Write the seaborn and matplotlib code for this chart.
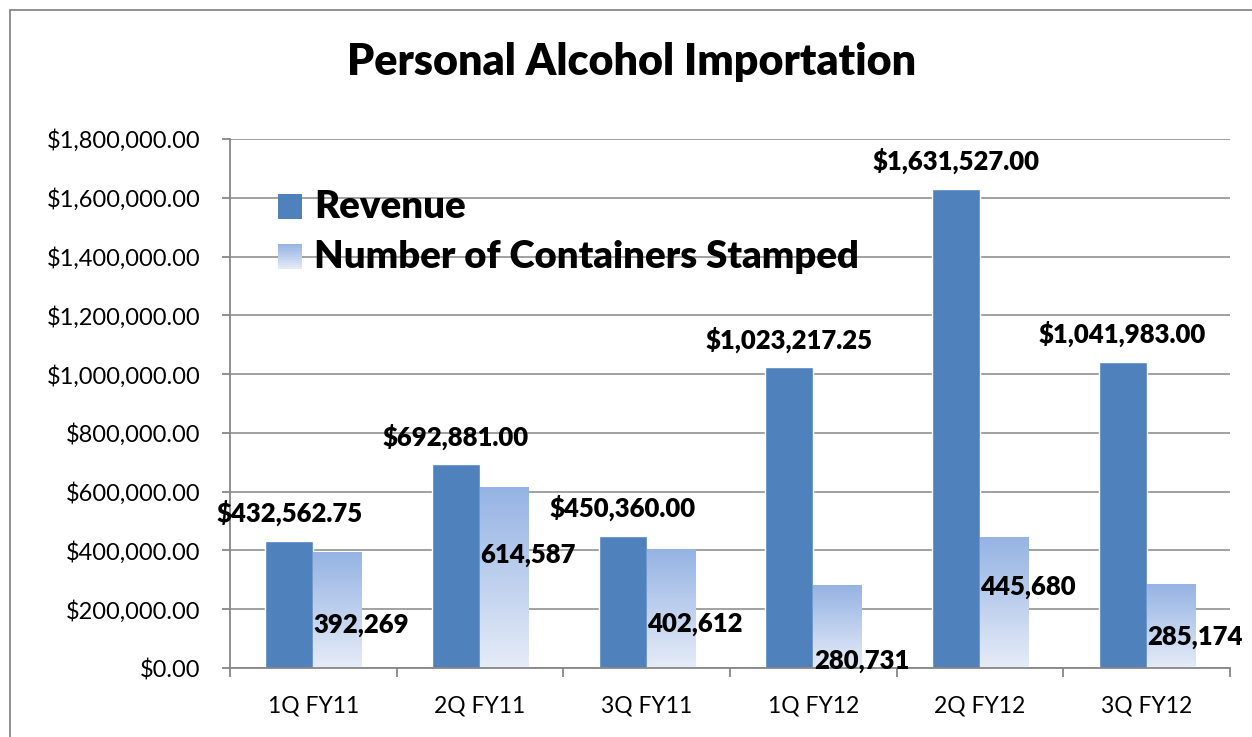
import matplotlib
matplotlib.use('Agg')
import matplotlib.pyplot as plt
import numpy as np
import pandas as pd
import seaborn as sns
from matplotlib.colors import LinearSegmentedColormap, to_rgb
from matplotlib.patches import Rectangle
from matplotlib.ticker import FuncFormatter, FixedLocator

quarters = ['1Q FY11', '2Q FY11', '3Q FY11', '1Q FY12', '2Q FY12', '3Q FY12']
revenue = [432562.75, 692881.00, 450360.00, 1023217.25, 1631527.00, 1041983.00]
containers = [392269, 614587, 402612, 280731, 445680, 285174]
# where the container labels sit (they were moved by hand in the original)
container_label_y = [146000, 384000, 150000, 24000, 276000, 105000]

series_names = ['Revenue', 'Number of Containers Stamped']

df = pd.DataFrame({
    'Quarter': quarters * 2,
    'Value': revenue + containers,
    'Series': [series_names[0]] * len(quarters) + [series_names[1]] * len(quarters),
})

sns.set_theme(style='white')
plt.rcParams['font.family'] = ['Lato', 'DejaVu Sans']
plt.rcParams['text.color'] = 'black'

REV_COLOR = '#4F81BD'
GRAD_TOP = '#95B3E3'
GRAD_BOTTOM = '#E6ECF8'
GRID_COLOR = '#878787'
BOLD = 'heavy'

fig = plt.figure(figsize=(12.52, 7.37), dpi=100)
ax = fig.add_axes([230 / 1252, 1 - 668 / 737, 1000 / 1252, 529 / 737])

sns.barplot(data=df, x='Quarter', y='Value', hue='Series', hue_order=series_names,
            palette={series_names[0]: REV_COLOR, series_names[1]: GRAD_TOP},
            width=0.578, gap=0, saturation=1, legend=False, ax=ax)

ax.set_xlim(-0.5, len(quarters) - 0.5)
ax.set_ylim(0, 1800000)

# gradient fill for the container bars
grad_cmap = LinearSegmentedColormap.from_list('cont', [GRAD_BOTTOM, GRAD_TOP])
grad = np.linspace(0, 1, 256).reshape(-1, 1)
for bar in ax.containers[1]:
    x, w, h = bar.get_x(), bar.get_width(), bar.get_height()
    ax.imshow(grad, extent=[x, x + w, 0, h], origin='lower', cmap=grad_cmap,
              aspect='auto', zorder=2, interpolation='bilinear')
    bar.set_visible(False)
for bar in ax.containers[0]:
    bar.set_zorder(2)

ax.set_xlim(-0.5, len(quarters) - 0.5)
ax.set_ylim(0, 1800000)

# axes styling
ax.set_axisbelow(True)
ax.set_yticks(np.arange(0, 1800001, 200000))
ax.yaxis.set_major_formatter(FuncFormatter(lambda v, p: '${:,.2f}'.format(v)))
ax.grid(axis='y', color=GRID_COLOR, linewidth=1.1)
ax.grid(axis='x', visible=False)
for side in ['top', 'right']:
    ax.spines[side].set_visible(False)
for side in ['left', 'bottom']:
    ax.spines[side].set_color(GRID_COLOR)
    ax.spines[side].set_linewidth(1.3)

ax.xaxis.set_minor_locator(FixedLocator(np.arange(-0.5, len(quarters), 1.0)))
ax.tick_params(axis='x', which='major', length=0, pad=20, labelsize=16.5, colors='black')
ax.tick_params(axis='x', which='minor', length=6.5, width=1.3, color=GRID_COLOR, bottom=True)
ax.tick_params(axis='y', which='major', length=6, width=1.3, color=GRID_COLOR, pad=15,
               labelsize=17, left=True, labelcolor='black')
ax.set_xlabel('')
ax.set_ylabel('')

# data labels
for i, v in enumerate(revenue):
    bar = ax.containers[0][i]
    ax.annotate('${:,.2f}'.format(v), (bar.get_x() + bar.get_width() / 2, v),
                xytext=(0, 20), textcoords='offset points', ha='center', va='center',
                fontsize=18.5, fontweight=BOLD, color='black')
for i, v in enumerate(containers):
    bar = ax.containers[1][i]
    ax.text(bar.get_x() + bar.get_width(), container_label_y[i], '{:,}'.format(v),
            ha='center', va='center', fontsize=18.5, fontweight=BOLD, color='black', zorder=5)


# legend: plain square for revenue, banded square for the gradient series
class GradientHandler:
    def legend_artist(self, legend, orig_handle, fontsize, handlebox):
        x0, y0 = handlebox.xdescent, handlebox.ydescent
        s = min(handlebox.width, handlebox.height)
        n = 12
        top, bot = np.array(to_rgb(GRAD_TOP)), np.array(to_rgb(GRAD_BOTTOM))
        for k in range(n):
            c = bot + (top - bot) * (k + 0.5) / n
            handlebox.add_artist(Rectangle((x0, y0 + k * s / n), s, s / n + 0.3, facecolor=c,
                                           edgecolor='none', transform=handlebox.get_transform()))
        return handlebox


class SquareHandler:
    def legend_artist(self, legend, orig_handle, fontsize, handlebox):
        x0, y0 = handlebox.xdescent, handlebox.ydescent
        s = min(handlebox.width, handlebox.height)
        r = Rectangle((x0, y0), s, s, facecolor=REV_COLOR, edgecolor='none',
                      transform=handlebox.get_transform())
        handlebox.add_artist(r)
        return r


h_rev = Rectangle((0, 0), 1, 1)
h_cont = Rectangle((0, 0), 1, 1)
leg = fig.legend([h_rev, h_cont], series_names, loc='upper left',
                 bbox_to_anchor=(278 / 1252, 1 - 190 / 737), frameon=False,
                 handler_map={h_rev: SquareHandler(), h_cont: GradientHandler()},
                 prop={'weight': BOLD, 'size': 27.5}, handlelength=0.64, handleheight=0.64,
                 handletextpad=0.3, labelspacing=0.42, borderpad=0, borderaxespad=0)
for t in leg.get_texts():
    t.set_color('black')

fig.text(632 / 1252, 1 - 62 / 737, 'Personal Alcohol Importation', ha='center', va='center',
         fontsize=31, fontweight=BOLD, color='black')

# chart-area border (only the left and top edges are in frame)
fig.patches.append(Rectangle((10 / 1252, -0.1), 1.2, 1.1 - 10 / 737, transform=fig.transFigure,
                             fill=False, edgecolor='#898989', linewidth=1.3))

fig.savefig('out.png', dpi=100)
